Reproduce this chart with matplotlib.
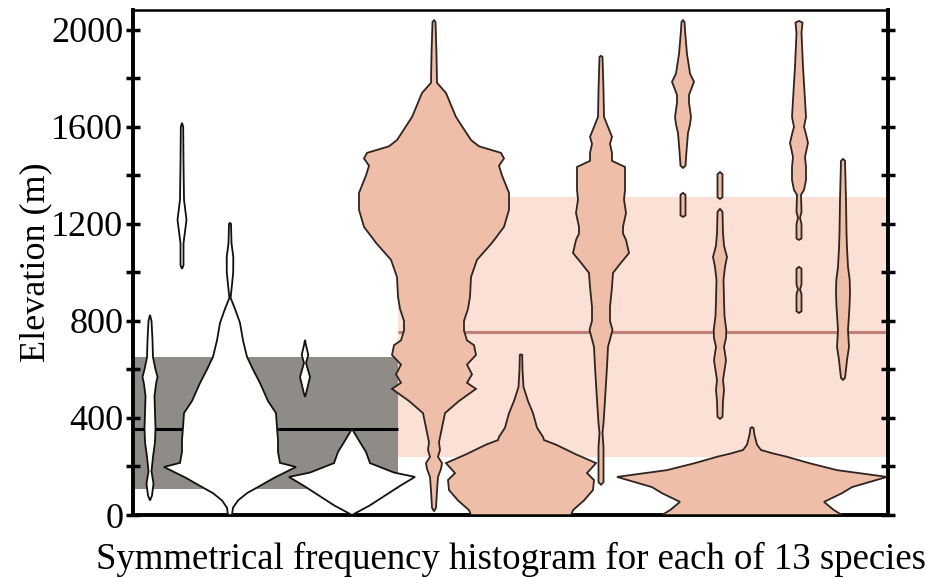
import matplotlib
matplotlib.use("Agg")
import matplotlib.pyplot as plt
import numpy as np

# ---------------- data ----------------
species = ["sp1", "sp2", "sp3", "sp4", "sp5", "sp6", "sp7",
           "sp8", "sp9", "sp10", "sp11", "sp12", "sp13"]
species_x = [150, 182, 230, 305, 352, 434, 521, 601, 683, 720, 752, 799, 843]
group = ["low", "low", "low", "low", "low", "high", "high",
         "high", "high", "high", "high", "high", "high"]

# symmetrical frequency profiles: segments of (elevation m, half-width)
profiles = [
    [[(60, 0), (80, 2), (130, 3.5), (180, 1.5), (240, 3), (300, 5), (360, 5.5), (420, 5),
      (490, 4.5), (540, 6), (570, 7.5), (600, 5.5), (650, 3), (720, 2.5), (800, 1.5), (825, 0)]],
    [[(1015, 0), (1030, 1.5), (1120, 1.5), (1217, 4.5), (1300, 2), (1450, 1.5), (1600, 1.2), (1617, 0)]],
    [[(0, 2), (30, 3), (60, 8), (90, 17), (120, 30), (153, 44), (198, 66), (215, 50), (260, 48),
      (310, 48), (360, 47), (420, 46), (470, 38), (544, 30), (600, 23), (652, 17), (720, 13),
      (792, 10), (850, 5), (895, 0.6), (950, 2), (1000, 3.2), (1064, 3.3), (1120, 1.5),
      (1200, 1), (1204, 0)]],
    [[(487, 0), (500, 1), (569, 5), (627, 1), (660, 3.3), (700, 1), (722, 0)]],
    [[(0, 0), (40, 18), (80, 33), (120, 48), (157, 63), (175, 42), (214, 18), (260, 14),
      (300, 8), (355, 0)]],
    [[(15, 0), (30, 2), (100, 3), (157, 4), (190, 7), (214, 8), (240, 4), (268, 6), (300, 5),
      (350, 7.5), (420, 11), (470, 25), (520, 42), (545, 33), (580, 38), (620, 33), (660, 42),
      (700, 40), (720, 33), (760, 30), (800, 30), (850, 34), (900, 36), (981, 37), (1052, 43),
      (1122, 58), (1188, 70), (1258, 75), (1328, 75), (1400, 68), (1440, 65), (1470, 70),
      (1493, 67), (1520, 45), (1546, 37), (1590, 30), (1641, 22), (1680, 18), (1740, 12),
      (1782, 3), (1900, 2.5), (2033, 1.5), (2040, 0)]],
    [[(0, 50), (20, 52), (60, 63), (103, 72), (144, 73), (173, 66), (200, 72), (214, 75),
      (250, 55), (290, 35), (309, 23), (322, 22), (360, 16), (420, 12), (470, 7), (528, 2.5),
      (600, 1.5), (660, 1.2), (662, 0)]],
    [[(125, 0), (135, 2.5), (280, 2.5), (338, 1.5), (379, 2.5), (474, 4), (610, 6), (693, 7),
      (763, 11.5), (800, 9), (858, 9), (940, 11), (998, 12), (1040, 20), (1080, 28),
      (1134, 25), (1160, 22), (1188, 22), (1245, 25), (1300, 23), (1340, 24), (1435, 24),
      (1460, 11), (1493, 11), (1530, 9), (1559, 11), (1641, 3), (1750, 2.5), (1889, 1.5),
      (1893, 0)]],
    [[(1229, 0), (1235, 2.5), (1320, 2.5), (1328, 0)],
     [(1431, 0), (1440, 2.5), (1500, 3.5), (1575, 5), (1610, 7), (1641, 8), (1700, 6),
      (1732, 6), (1786, 11), (1820, 7), (1848, 6), (1900, 4), (1988, 2.2), (2033, 1.5),
      (2040, 0)]],
    [[(1303, 0), (1310, 2.5), (1405, 2.5), (1414, 0)],
     [(396, 0), (405, 2.5), (470, 3), (515, 4), (557, 3), (610, 5), (639, 6), (693, 4),
      (730, 6), (763, 6.3), (820, 4.5), (887, 4), (969, 3.5), (1023, 5), (1064, 7),
      (1110, 4), (1163, 3), (1250, 2.5), (1262, 0)]],
    [[(0, 90), (20, 82), (54, 72), (90, 90), (115, 100), (157, 135), (185, 85), (214, 57),
      (240, 35), (255, 20), (268, 9), (290, 5), (330, 2.5), (359, 1.5), (362, 0)]],
    [[(1134, 0), (1140, 2.5), (1200, 2.5), (1225, 1), (1250, 2.5), (1320, 2), (1340, 5),
      (1381, 7), (1435, 7), (1476, 6), (1534, 9), (1570, 7), (1600, 5), (1641, 7),
      (1711, 6), (1780, 5), (1848, 4), (1988, 2.5), (2030, 3.5), (2037, 0)],
     [(833, 0), (840, 2.5), (910, 2.5), (930, 1), (950, 2.5), (1015, 2.5), (1023, 0)]],
    [[(557, 0), (565, 2), (600, 3), (639, 4), (693, 6), (763, 5), (858, 6.5), (915, 7),
      (969, 6.7), (1023, 5), (1100, 4), (1163, 3.5), (1299, 3), (1460, 2), (1468, 0)]],
]

# group ranges (low / high) and group means
band_low = (107, 651)
band_high = (239, 1311)
mean_low = 354
mean_high = 755
group_split_x = 398

y_ticks = [0, 400, 800, 1200, 1600, 2000]
y_minor = [200, 600, 1000, 1400, 1800]

# ---------------- plot ----------------
plt.rcParams['font.family'] = ['Liberation Serif', 'DejaVu Serif']

fig = plt.figure(figsize=(9.27, 5.78), dpi=100)
ax = fig.add_axes([133 / 927, 1 - 515 / 578, (888 - 133) / 927, (515 - 10) / 578])
x0, x1 = 133, 888
ax.set_xlim(x0, x1)
ax.set_ylim(0, 2082)

gray = "#8f8c87"
pink_band = "#fbe1d5"
pink_fill = "#efbea8"
red_line = "#c27f78"

ax.fill_between([x0, group_split_x], band_low[0], band_low[1], color=gray, lw=0, zorder=1)
ax.fill_between([group_split_x, x1], band_high[0], band_high[1], color=pink_band, lw=0, zorder=1)
ax.plot([x0, group_split_x], [mean_low, mean_low], color="black", lw=2.2, zorder=2,
        solid_capstyle="butt")
ax.plot([group_split_x, x1], [mean_high, mean_high], color=red_line, lw=2.2, zorder=2,
        solid_capstyle="butt")

for cx, g, segs in zip(species_x, group, profiles):
    fc = "white" if g == "low" else pink_fill
    ec = "#111111" if g == "low" else "#2e2420"
    for seg in segs:
        arr = np.array(seg, dtype=float)
        e, h = arr[:, 0], arr[:, 1]
        xs = np.concatenate([cx - h, (cx + h)[::-1]])
        ys = np.concatenate([e, e[::-1]])
        ax.fill(xs, ys, facecolor=fc, edgecolor=ec, lw=1.3, zorder=3, joinstyle="miter")

# axes styling
ax.set_xticks([])
ax.set_yticks(y_ticks)
ax.set_yticks(y_minor, minor=True)
ax.tick_params(axis="y", which="both", direction="inout", length=10, width=2.5,
               right=True, labelright=False, labelsize=26, pad=2)
for s in ["left", "right", "bottom"]:
    ax.spines[s].set_linewidth(2.8)
ax.spines["top"].set_linewidth(1.8)

ax.set_ylabel("Elevation (m)", fontsize=26, labelpad=-1)
ax.set_xlabel("Symmetrical frequency histogram for each of 13 species", fontsize=26.5,
              labelpad=19)

fig.savefig("out.png", dpi=100)
